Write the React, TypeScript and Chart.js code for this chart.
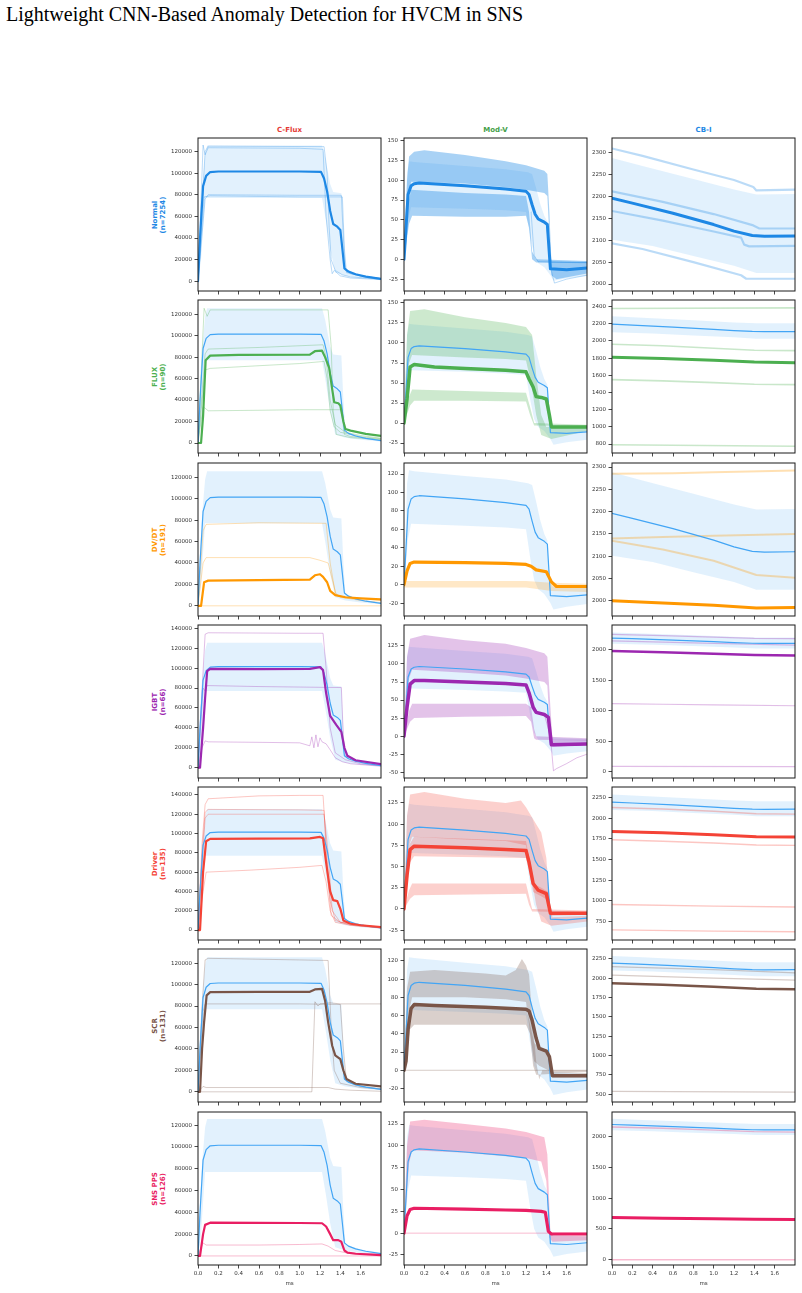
import React, { useEffect, useRef } from 'react';
import { Chart, registerables } from 'chart.js';
Chart.register(...registerables);

// ---------------- labels ----------------
const TITLE = 'Lightweight CNN-Based Anomaly Detection for HVCM in SNS';
const COLUMN_TITLES = ['C-Flux', 'Mod-V', 'CB-I'];
const COLUMN_COLORS = ['#E53935', '#43A047', '#1E88E5'];
const CLASS_NAMES = ['Normal', 'FLUX', 'DV/DT', 'IGBT', 'Driver', 'SCR', 'SNS PPS'];
const CLASS_COUNTS = [7254, 90, 191, 66, 135, 131, 126];
const CLASS_RGB = ['30,136,229', '76,175,80', '255,152,0', '156,39,176', '244,67,54', '121,85,72', '233,30,99'];
const X_TICKS = [0, 0.2, 0.4, 0.6, 0.8, 1.0, 1.2, 1.4, 1.6];
const X_MAX = 1.8;

// y ticks
const CF_TICKS_120 = [0, 20000, 40000, 60000, 80000, 100000, 120000];
const CF_TICKS_140 = [0, 20000, 40000, 60000, 80000, 100000, 120000, 140000];
const MV_TICKS_A = [-25, 0, 25, 50, 75, 100, 125, 150];
const MV_TICKS_B = [-20, 0, 20, 40, 60, 80, 100, 120];
const MV_TICKS_C = [-50, -25, 0, 25, 50, 75, 100, 125];
const MV_TICKS_D = [-25, 0, 25, 50, 75, 100, 125];
const CB_TICKS_A = [2000, 2050, 2100, 2150, 2200, 2250, 2300];
const CB_TICKS_B = [800, 1000, 1200, 1400, 1600, 1800, 2000, 2200, 2400];
const CB_TICKS_C = [0, 500, 1000, 1500, 2000];
const CB_TICKS_D = [750, 1000, 1250, 1500, 1750, 2000, 2250];
const CB_TICKS_E = [500, 750, 1000, 1250, 1500, 1750, 2000, 2250];

const CF_ROW_TICKS = [CF_TICKS_120, CF_TICKS_120, CF_TICKS_120, CF_TICKS_140, CF_TICKS_140, CF_TICKS_120, CF_TICKS_120];
const MV_ROW_TICKS = [MV_TICKS_A, MV_TICKS_A, MV_TICKS_B, MV_TICKS_C, MV_TICKS_D, MV_TICKS_B, MV_TICKS_D];
const CB_ROW_TICKS = [CB_TICKS_A, CB_TICKS_B, CB_TICKS_A, CB_TICKS_C, CB_TICKS_D, CB_TICKS_E, CB_TICKS_C];

const CF_LIMITS = [[-9000, 132500], [-9300, 133200], [-9500, 133300], [-10300, 143300], [-10300, 148200], [-9500, 133200], [-8300, 132000]];
const MV_LIMITS = [[-40, 153.4], [-37.4, 153.7], [-34, 132], [-58, 154], [-36.7, 143.8], [-34.8, 133], [-36.5, 138.8]];
const CB_LIMITS = [[1984, 2334], [696, 2477], [1966, 2309], [-100, 2410], [525, 2379], [398, 2378], [-86, 2399]];

// ---------------- Normal reference (mean and band) : [t, value, t, value, ...] ----------------
const REF_CF_MEAN = [0, 0, 0.02, 40000, 0.05, 88000, 0.08, 97500, 0.12, 101000, 0.2, 101500, 1.0, 101500, 1.21, 101200, 1.24, 95000, 1.27, 83000, 1.3, 65000, 1.33, 53000, 1.37, 50500, 1.4, 47500, 1.42, 30000, 1.44, 12000, 1.48, 9000, 1.55, 6500, 1.65, 4300, 1.8, 2200];
const REF_CF_HI = [0, 0, 0.02, 50000, 0.04, 85000, 0.07, 118000, 0.09, 125500, 1.22, 125500, 1.25, 115000, 1.3, 90000, 1.33, 82500, 1.41, 81500, 1.43, 40000, 1.45, 11000, 1.5, 9000, 1.6, 6000, 1.7, 4500, 1.8, 3000];
const REF_CF_LO = [0, 0, 0.03, 20000, 0.05, 50000, 0.07, 77000, 1.22, 77000, 1.26, 55000, 1.3, 30000, 1.35, 8000, 1.45, 5000, 1.6, 3000, 1.8, 1500];

const REF_MV_MEAN = [0, 0, 0.02, 40, 0.04, 82, 0.07, 93, 0.1, 95.5, 0.15, 96.5, 0.6, 93, 1.0, 89, 1.2, 86, 1.23, 82, 1.26, 69, 1.29, 57, 1.32, 51, 1.38, 47, 1.41, 44, 1.44, -12, 1.6, -13, 1.8, -11];
const REF_MV_HI = [0, 0, 0.03, 110, 0.05, 124, 0.1, 123, 0.6, 118, 1.0, 114, 1.22, 110, 1.26, 108, 1.3, 90, 1.34, 70, 1.38, 55, 1.41, 48, 1.43, 5, 1.46, -2, 1.8, -4];
const REF_MV_LO = [0, -2, 0.04, 50, 0.07, 66, 0.6, 64, 1.0, 62, 1.2, 60, 1.24, 30, 1.28, 5, 1.32, -5, 1.38, -10, 1.44, -20, 1.47, -27, 1.6, -24, 1.8, -21];

const REF_CB_MEAN = [0, 2196, 0.2, 2185, 0.6, 2162, 1.0, 2136, 1.2, 2121, 1.38, 2111, 1.5, 2109, 1.8, 2110];
const REF_CB_HI = [0, 2288, 0.3, 2270, 0.8, 2240, 1.2, 2216, 1.42, 2205, 1.8, 2206];
const REF_CB_LO = [0, 2101, 0.4, 2087, 0.8, 2064, 1.2, 2042, 1.42, 2025, 1.8, 2025];

// ---------------- Normal samples ----------------
const NORMAL_CF_LINES = [
  [0, 0, 0.05, 126000, 0.07, 117000, 0.1, 123500, 1.0, 123000, 1.23, 122000, 1.26, 60000, 1.3, 20000, 1.32, 7000, 1.34, 10000, 1.4, 5000, 1.5, 3000, 1.8, 1500],
  [0, 0, 0.07, 120000, 0.1, 125000, 1.24, 124500, 1.27, 100000, 1.29, 50000, 1.31, 20000, 1.35, 10000, 1.42, 6000, 1.5, 4000, 1.8, 2000],
  [0, 0, 0.07, 76000, 0.1, 80000, 1.0, 79500, 1.41, 79500, 1.43, 40000, 1.45, 10000, 1.5, 7000, 1.6, 5000, 1.8, 2500],
  [0, 0, 0.06, 78000, 0.12, 79000, 1.0, 78000, 1.42, 78000, 1.44, 30000, 1.46, 8000, 1.6, 5000, 1.8, 2500],
];
const NORMAL_MV_CLUSTERS = [
  [[0, 0, 0.03, 100, 0.05, 130, 0.1, 136, 0.2, 138, 0.6, 132, 1.0, 124, 1.2, 119, 1.38, 112, 1.41, 108, 1.43, 60, 1.45, -3, 1.8, -3],
   [0, 0, 0.04, 80, 0.07, 98, 0.6, 96, 1.0, 91, 1.2, 88, 1.38, 84, 1.41, 80, 1.43, 30, 1.45, -20, 1.5, -25, 1.8, -18]],
  [[0, 0, 0.04, 70, 0.07, 88, 0.6, 84, 1.0, 82, 1.2, 80, 1.23, 60, 1.26, 10, 1.3, 0, 1.8, -2],
   [0, 0, 0.05, 45, 0.08, 55, 0.6, 54, 1.0, 54, 1.2, 55, 1.23, 40, 1.26, 0, 1.3, -4, 1.8, -5]],
];
const NORMAL_MV_LINES = [
  [1.4, 45, 1.45, -15, 1.48, -30, 1.6, -25, 1.8, -20],
  [1.25, 60, 1.28, 5, 1.32, -3, 1.8, -4],
];
const NORMAL_CB_LINES = [
  [0, 2310, 0.3, 2293, 0.8, 2262, 1.2, 2238, 1.39, 2222, 1.42, 2214, 1.8, 2216],
  [0, 2212, 0.5, 2188, 1.0, 2160, 1.39, 2134, 1.45, 2127, 1.8, 2127],
  [0, 2167, 0.5, 2145, 1.0, 2120, 1.27, 2106, 1.3, 2090, 1.35, 2086, 1.8, 2087],
  [0, 2093, 0.3, 2080, 0.8, 2050, 1.27, 2020, 1.32, 2012, 1.8, 2012],
];

// ---------------- FLUX ----------------
const FLUX_CF_MEAN = [0, 0, 0.03, 0, 0.05, 25000, 0.075, 77000, 0.12, 81400, 0.4, 82000, 1.1, 82300, 1.15, 85500, 1.22, 86000, 1.25, 80000, 1.29, 70000, 1.32, 50000, 1.34, 38000, 1.38, 37000, 1.4, 35000, 1.43, 20000, 1.45, 13000, 1.5, 11500, 1.65, 8500, 1.8, 6700];
const FLUX_CF_LINES = [
  [0, 0, 0.06, 125500, 0.09, 118000, 0.12, 124000, 1.28, 124000, 1.31, 90000, 1.33, 30000, 1.36, 8000, 1.5, 5000, 1.8, 3000],
  [0, 0, 0.07, 83000, 0.1, 87500, 0.6, 89000, 1.23, 91500, 1.26, 80000, 1.3, 40000, 1.35, 17000, 1.45, 10000, 1.6, 7000, 1.8, 4500],
  [0, 0, 0.07, 68000, 0.12, 69500, 0.6, 72000, 1.0, 74000, 1.24, 76000, 1.27, 60000, 1.3, 30000, 1.34, 15000, 1.4, 10000, 1.6, 6000, 1.8, 4000],
  [0, 0, 0.05, 34000, 0.1, 30000, 0.6, 30500, 1.0, 31000, 1.41, 31000, 1.44, 8000, 1.5, 6000, 1.8, 3500],
];
const FLUX_MV_MEAN = [0, 0, 0.03, 30, 0.06, 70, 0.1, 73, 0.3, 70, 0.6, 68, 1.0, 66, 1.2, 64, 1.23, 55, 1.27, 45, 1.3, 33, 1.35, 32, 1.4, 30, 1.43, 10, 1.45, -5, 1.8, -5];
const FLUX_MV_CLUSTERS = [
  [[0, 0, 0.03, 110, 0.06, 140, 0.2, 142, 0.6, 132, 1.0, 125, 1.2, 120, 1.26, 110, 1.3, 60, 1.35, 10, 1.4, -5, 1.8, -3],
   [0, 0, 0.05, 75, 0.08, 85, 0.6, 82, 1.0, 80, 1.2, 78, 1.25, 50, 1.3, 10, 1.35, -15, 1.45, -20, 1.8, -10]],
  [[0, 0, 0.04, 30, 0.08, 42, 0.6, 40, 1.2, 38, 1.24, 20, 1.28, 0, 1.8, -2],
   [0, 0, 0.06, 22, 0.1, 28, 0.6, 28, 1.2, 27, 1.24, 10, 1.28, -3, 1.8, -4]],
];
const FLUX_CB_MEAN = [0, 1812, 0.5, 1795, 1.0, 1775, 1.4, 1755, 1.8, 1748];
const FLUX_CB_LINES = [
  [0, 2378, 1.8, 2385],
  [0, 1962, 0.5, 1945, 1.0, 1915, 1.4, 1892, 1.8, 1888],
  [0, 1550, 0.5, 1535, 1.0, 1515, 1.4, 1497, 1.8, 1492],
  [0, 792, 1.8, 775],
];

// ---------------- DV/DT ----------------
const DVDT_CF_MEAN = [0, 0, 0.03, 0, 0.06, 22000, 0.1, 23500, 0.6, 24000, 1.1, 24500, 1.15, 28500, 1.2, 29500, 1.23, 27000, 1.27, 22000, 1.3, 14000, 1.35, 10000, 1.45, 8000, 1.6, 7000, 1.8, 6000];
const DVDT_CF_LINES = [
  [0, 0, 0.05, 70000, 0.08, 76000, 0.6, 77500, 1.26, 77000, 1.3, 40000, 1.35, 12000, 1.4, 8000, 1.6, 5000, 1.8, 3000],
  [0, 0, 0.05, 40000, 0.08, 45000, 1.1, 45000, 1.2, 42500, 1.28, 40000, 1.32, 25000, 1.36, 10000, 1.45, 8000, 1.8, 5000],
  [0, 0, 1.8, 0],
];
const DVDT_MV_MEAN = [0, 0, 0.03, 15, 0.06, 23, 0.1, 24.5, 0.6, 24, 1.0, 23, 1.2, 22, 1.25, 20, 1.3, 16, 1.4, 14, 1.45, 3, 1.5, -2, 1.8, -2];
const DVDT_MV_CLUSTERS = [
  [[0, 4, 1.2, 4, 1.45, 2, 1.8, 1], [0, -3, 1.2, -3, 1.45, -7, 1.8, -8]],
];
const DVDT_CB_MEAN = [0, 2000, 0.5, 1995, 1.0, 1990, 1.42, 1984, 1.8, 1985];
const DVDT_CB_LINES = [
  [0, 2285, 0.6, 2286, 1.0, 2288, 1.8, 2292],
  [0, 2140, 0.5, 2143, 1.0, 2146, 1.8, 2150],
  [0, 2135, 0.5, 2115, 1.0, 2090, 1.42, 2058, 1.8, 2052],
];

// ---------------- IGBT ----------------
const IGBT_CF_MEAN = [0, 0, 0.02, 0, 0.05, 40000, 0.07, 70000, 0.09, 97000, 0.12, 99300, 0.6, 99000, 1.1, 99300, 1.2, 101000, 1.23, 98000, 1.26, 75000, 1.3, 52000, 1.36, 43000, 1.41, 36000, 1.44, 20000, 1.47, 12000, 1.55, 7500, 1.8, 3700];
const IGBT_CF_LINES = [
  [0, 0, 0.03, 60000, 0.07, 134000, 0.1, 135500, 1.0, 135000, 1.23, 135000, 1.26, 100000, 1.3, 40000, 1.35, 15000, 1.45, 8000, 1.6, 4000, 1.8, 2000],
  [0, 0, 0.05, 80000, 0.07, 77000, 0.09, 82500, 0.6, 81500, 1.0, 81000, 1.41, 80500, 1.43, 30000, 1.45, 12000, 1.55, 7000, 1.8, 3000],
  [0, 0, 0.04, 20000, 0.07, 27000, 0.1, 26000, 0.6, 25500, 1.0, 25000, 1.1, 22000, 1.12, 31000, 1.14, 20000, 1.16, 33000, 1.18, 21000, 1.2, 30000, 1.22, 26000, 1.26, 24000, 1.3, 18000, 1.35, 10000, 1.42, 6000, 1.5, 4000, 1.8, 1500],
];
const IGBT_MV_MEAN = [0, 0, 0.03, 40, 0.06, 72, 0.1, 77, 0.2, 77, 0.6, 75, 1.0, 73, 1.2, 71, 1.23, 60, 1.27, 40, 1.3, 33, 1.38, 30, 1.42, 26, 1.45, -12, 1.8, -11];
const IGBT_MV_CLUSTERS = [
  [[0, 0, 0.03, 110, 0.06, 135, 0.2, 140, 0.6, 133, 1.0, 128, 1.2, 122, 1.38, 115, 1.41, 110, 1.44, 40, 1.46, -5, 1.8, -5],
   [0, 0, 0.05, 80, 0.08, 92, 0.6, 88, 1.0, 84, 1.2, 80, 1.38, 75, 1.41, 70, 1.43, 20, 1.46, -15, 1.8, -12]],
  [[0, 0, 0.05, 35, 0.08, 45, 0.6, 45, 1.2, 45, 1.25, 40, 1.28, 10, 1.3, 0, 1.8, -3],
   [0, 0, 0.06, 20, 0.1, 25, 0.6, 27, 1.2, 28, 1.25, 20, 1.28, -3, 1.3, -5, 1.8, -6]],
];
const IGBT_MV_LINES = [
  [1.38, 30, 1.44, 0, 1.47, -48, 1.5, -45, 1.6, -38, 1.7, -30, 1.8, -25],
];
const IGBT_CB_MEAN = [0, 1985, 0.5, 1962, 1.0, 1940, 1.4, 1918, 1.8, 1910];
const IGBT_CB_LINES = [
  [0, 2255, 0.5, 2235, 1.0, 2210, 1.4, 2190, 1.8, 2185],
  [0, 2150, 1.0, 2110, 1.8, 2080],
  [0, 1120, 0.5, 1110, 1.0, 1100, 1.8, 1085],
  [0, 90, 1.8, 85],
];

// ---------------- Driver ----------------
const DRIVER_CF_MEAN = [0, 0, 0.02, 0, 0.05, 60000, 0.08, 92000, 0.12, 94500, 0.6, 94800, 1.1, 95000, 1.2, 96500, 1.23, 95000, 1.26, 70000, 1.3, 40000, 1.33, 31000, 1.37, 30000, 1.4, 22000, 1.43, 10000, 1.5, 6500, 1.6, 5000, 1.8, 3000];
const DRIVER_CF_LINES = [
  [0, 0, 0.04, 90000, 0.07, 130000, 0.1, 136000, 0.6, 139000, 1.0, 139500, 1.23, 139500, 1.26, 90000, 1.3, 30000, 1.35, 10000, 1.5, 5000, 1.8, 2500],
  [0, 0, 0.04, 80000, 0.07, 122000, 0.1, 125000, 1.0, 124500, 1.24, 124000, 1.27, 60000, 1.31, 15000, 1.4, 8000, 1.8, 2500],
  [0, 0, 0.07, 116000, 0.1, 120000, 1.0, 120000, 1.24, 120000, 1.28, 80000, 1.32, 20000, 1.4, 8000, 1.8, 3000],
  [0, 0, 0.05, 40000, 0.08, 60000, 0.5, 62000, 1.0, 65000, 1.22, 67000, 1.26, 50000, 1.3, 20000, 1.35, 8000, 1.5, 5000, 1.8, 2000],
];
const DRIVER_MV_MEAN = [0, 0, 0.03, 40, 0.06, 70, 0.1, 74, 0.6, 72, 1.0, 70, 1.2, 69, 1.23, 55, 1.27, 30, 1.32, 22, 1.4, 18, 1.44, -5, 1.8, -5];
const DRIVER_MV_CLUSTERS = [
  [[0, 0, 0.03, 110, 0.06, 135, 0.2, 138, 0.6, 130, 1.0, 125, 1.15, 128, 1.2, 120, 1.3, 100, 1.35, 90, 1.4, 60, 1.43, 10, 1.46, -10, 1.8, -8],
   [0, 0, 0.05, 75, 0.08, 85, 0.6, 82, 1.0, 80, 1.2, 75, 1.25, 40, 1.3, 5, 1.35, -15, 1.45, -20, 1.8, -15]],
  [[0, 0, 0.05, 75, 0.1, 85, 1.2, 80, 1.23, 60, 1.27, 30, 1.35, 25, 1.42, 20, 1.44, -5, 1.8, -4],
   [0, 0, 0.06, 55, 0.1, 62, 1.2, 60, 1.23, 45, 1.27, 20, 1.35, 15, 1.42, 10, 1.44, -8, 1.8, -7]],
  [[0, 0, 0.05, 22, 0.08, 30, 1.2, 30, 1.23, 15, 1.26, 0, 1.8, -2],
   [0, 0, 0.06, 12, 0.1, 16, 1.2, 18, 1.23, 5, 1.26, -3, 1.8, -4]],
];
const DRIVER_CB_MEAN = [0, 1840, 0.5, 1825, 1.0, 1800, 1.42, 1775, 1.8, 1773];
const DRIVER_CB_LINES = [
  [0, 2130, 0.5, 2112, 1.0, 2085, 1.42, 2055, 1.8, 2050],
  [0, 1740, 0.5, 1722, 1.0, 1700, 1.42, 1676, 1.8, 1672],
  [0, 955, 1.0, 935, 1.8, 925],
  [0, 648, 1.0, 632, 1.8, 625],
];

// ---------------- SCR ----------------
const SCR_CF_MEAN = [0, 0, 0.02, 0, 0.04, 40000, 0.06, 65000, 0.085, 90000, 0.12, 93000, 0.6, 93200, 1.1, 93300, 1.15, 95500, 1.22, 96000, 1.25, 85000, 1.28, 65000, 1.32, 43000, 1.35, 34000, 1.4, 30500, 1.43, 20000, 1.46, 12000, 1.55, 7500, 1.8, 5000];
const SCR_CF_LINES = [
  [0, 0, 0.04, 80000, 0.07, 123000, 0.1, 124500, 1.0, 123000, 1.28, 122500, 1.31, 60000, 1.34, 20000, 1.4, 8000, 1.6, 4000, 1.8, 2500],
  [0, 0, 0.05, 75000, 0.07, 82000, 0.6, 82000, 1.0, 82000, 1.4, 81500, 1.43, 40000, 1.46, 10000, 1.6, 5000, 1.8, 3000],
  [0, 0, 1.12, 0, 1.15, 84000, 1.18, 80000, 1.2, 82000, 1.3, 83000, 1.4, 82000, 1.8, 82000],
  [0, 0, 0.05, 5000, 0.08, 4000, 1.0, 4000, 1.28, 4000, 1.35, 2500, 1.5, 1500, 1.8, 500],
];
const SCR_MV_MEAN = [0, 0, 0.02, 10, 0.04, 45, 0.07, 68, 0.1, 72, 0.3, 71, 0.8, 69, 1.2, 67, 1.23, 65, 1.26, 55, 1.3, 35, 1.33, 24, 1.4, 21, 1.43, 15, 1.46, -6, 1.8, -6];
const SCR_MV_CLUSTERS = [
  [[0, 0, 0.03, 90, 0.06, 108, 0.3, 110, 0.8, 106, 1.0, 104, 1.1, 110, 1.16, 122, 1.2, 115, 1.23, 105, 1.26, 60, 1.3, 10, 1.33, -10, 1.36, 0, 1.8, 0],
   [0, 0, 0.05, 65, 0.08, 80, 0.6, 80, 1.0, 78, 1.2, 75, 1.23, 50, 1.27, 5, 1.3, -5, 1.8, -2]],
  [[0, 0, 0.05, 60, 0.08, 72, 1.2, 68, 1.23, 55, 1.28, 30, 1.33, 25, 1.42, 22, 1.46, -4, 1.8, -3],
   [0, 0, 0.06, 45, 0.1, 50, 0.6, 50, 1.2, 50, 1.24, 40, 1.28, 10, 1.33, 5, 1.42, 0, 1.46, -8, 1.8, -8]],
];
const SCR_MV_LINES = [[0, 0, 1.8, 0]];
const SCR_CB_MEAN = [0, 1935, 0.5, 1915, 1.0, 1890, 1.42, 1865, 1.8, 1858];
const SCR_CB_LINES = [
  [0, 2150, 1.0, 2110, 1.8, 2070],
  [0, 2040, 1.0, 2000, 1.8, 1975],
  [0, 535, 1.8, 525],
];

// ---------------- SNS PPS ----------------
const PPS_CF_MEAN = [0, 0, 0.02, 0, 0.05, 20000, 0.07, 28500, 0.12, 30500, 0.6, 30300, 1.0, 30200, 1.22, 30000, 1.26, 27000, 1.3, 20000, 1.33, 14500, 1.38, 14500, 1.41, 13000, 1.44, 5000, 1.47, 3000, 1.55, 2000, 1.8, 800];
const PPS_CF_LINES = [
  [0, 0, 0.05, 12000, 0.08, 10000, 0.6, 10000, 1.0, 10500, 1.22, 11000, 1.28, 9000, 1.35, 5000, 1.45, 3000, 1.8, 1500],
  [0, 0, 1.8, 0],
];
const PPS_MV_MEAN = [0, 0, 0.03, 20, 0.06, 27, 0.1, 28.5, 0.6, 27.5, 1.0, 26.5, 1.2, 26, 1.35, 25, 1.39, 24, 1.42, 2, 1.45, -1, 1.8, -1];
const PPS_MV_CLUSTERS = [
  [[0, 0, 0.03, 100, 0.06, 128, 0.2, 130, 0.6, 125, 1.0, 120, 1.2, 116, 1.38, 110, 1.41, 90, 1.44, 0, 1.47, -3, 1.8, -3],
   [0, 0, 0.05, 80, 0.08, 95, 0.6, 92, 1.0, 88, 1.2, 86, 1.35, 82, 1.4, 60, 1.43, -5, 1.46, -10, 1.8, -8]],
];
const PPS_MV_LINES = [[0, 0, 1.8, 0]];
const PPS_CB_MEAN = [0, 685, 0.5, 675, 1.0, 665, 1.4, 656, 1.8, 654];
const PPS_CB_LINES = [
  [0, 2155, 0.5, 2135, 1.0, 2105, 1.4, 2080, 1.8, 2072],
  [0, 0, 1.8, 0],
];

// ---------------- layout constants ----------------
const COL_X = [198, 404, 612];
const ROW_Y = [138, 300, 463, 625, 787, 949, 1112];
const PLOT_W = 183;
const PLOT_H = 153;
const Y_AXIS_W = 48;
const PAD_T = 3;
const PAD_R = 4;

type Layer =
  | { kind: 'line'; pts: number[]; color: string; width: number }
  | { kind: 'band'; hi: number[]; lo: number[]; color: string };

function toXY(a: number[]) {
  const r: { x: number; y: number }[] = [];
  for (let i = 0; i + 1 < a.length; i += 2) r.push({ x: a[i], y: a[i + 1] });
  return r;
}

const REF_BAND_COLOR = 'rgba(33,150,243,0.13)';
const REF_LINE_COLOR = '#42A5F5';

const REFS = [
  { mean: REF_CF_MEAN, hi: REF_CF_HI, lo: REF_CF_LO },
  { mean: REF_MV_MEAN, hi: REF_MV_HI, lo: REF_MV_LO },
  { mean: REF_CB_MEAN, hi: REF_CB_HI, lo: REF_CB_LO },
];

type ColSpec = { mean: number[]; lines: number[][]; clusters: number[][][]; lineW: number; meanW: number; clusterA: number };
const CLASS_SPECS: ColSpec[][] = [
  [
    { mean: REF_CF_MEAN, lines: NORMAL_CF_LINES, clusters: [], lineW: 1, meanW: 2.2, clusterA: 0 },
    { mean: REF_MV_MEAN, lines: NORMAL_MV_LINES, clusters: NORMAL_MV_CLUSTERS, lineW: 1, meanW: 3, clusterA: 0.38 },
    { mean: REF_CB_MEAN, lines: NORMAL_CB_LINES, clusters: [], lineW: 2.2, meanW: 3, clusterA: 0 },
  ],
  [
    { mean: FLUX_CF_MEAN, lines: FLUX_CF_LINES, clusters: [], lineW: 1, meanW: 2.2, clusterA: 0 },
    { mean: FLUX_MV_MEAN, lines: [], clusters: FLUX_MV_CLUSTERS, lineW: 1, meanW: 3.5, clusterA: 0.28 },
    { mean: FLUX_CB_MEAN, lines: FLUX_CB_LINES, clusters: [], lineW: 1.6, meanW: 3, clusterA: 0 },
  ],
  [
    { mean: DVDT_CF_MEAN, lines: DVDT_CF_LINES, clusters: [], lineW: 1, meanW: 2.2, clusterA: 0 },
    { mean: DVDT_MV_MEAN, lines: [], clusters: DVDT_MV_CLUSTERS, lineW: 1, meanW: 3.2, clusterA: 0.22 },
    { mean: DVDT_CB_MEAN, lines: DVDT_CB_LINES, clusters: [], lineW: 2, meanW: 3, clusterA: 0 },
  ],
  [
    { mean: IGBT_CF_MEAN, lines: IGBT_CF_LINES, clusters: [], lineW: 1, meanW: 2.2, clusterA: 0 },
    { mean: IGBT_MV_MEAN, lines: IGBT_MV_LINES, clusters: IGBT_MV_CLUSTERS, lineW: 1, meanW: 3.5, clusterA: 0.28 },
    { mean: IGBT_CB_MEAN, lines: IGBT_CB_LINES, clusters: [], lineW: 1.2, meanW: 2.5, clusterA: 0 },
  ],
  [
    { mean: DRIVER_CF_MEAN, lines: DRIVER_CF_LINES, clusters: [], lineW: 1, meanW: 2.2, clusterA: 0 },
    { mean: DRIVER_MV_MEAN, lines: [], clusters: DRIVER_MV_CLUSTERS, lineW: 1, meanW: 3.5, clusterA: 0.25 },
    { mean: DRIVER_CB_MEAN, lines: DRIVER_CB_LINES, clusters: [], lineW: 1.4, meanW: 3, clusterA: 0 },
  ],
  [
    { mean: SCR_CF_MEAN, lines: SCR_CF_LINES, clusters: [], lineW: 1, meanW: 2.2, clusterA: 0 },
    { mean: SCR_MV_MEAN, lines: SCR_MV_LINES, clusters: SCR_MV_CLUSTERS, lineW: 1, meanW: 3.5, clusterA: 0.28 },
    { mean: SCR_CB_MEAN, lines: SCR_CB_LINES, clusters: [], lineW: 1.2, meanW: 2.5, clusterA: 0 },
  ],
  [
    { mean: PPS_CF_MEAN, lines: PPS_CF_LINES, clusters: [], lineW: 1, meanW: 2.2, clusterA: 0 },
    { mean: PPS_MV_MEAN, lines: PPS_MV_LINES, clusters: PPS_MV_CLUSTERS, lineW: 1, meanW: 3.2, clusterA: 0.28 },
    { mean: PPS_CB_MEAN, lines: PPS_CB_LINES, clusters: [], lineW: 1.4, meanW: 3, clusterA: 0 },
  ],
];

function buildLayers(row: number, col: number): Layer[] {
  const ref = REFS[col];
  const spec = CLASS_SPECS[row][col];
  const rgb = CLASS_RGB[row];
  const layers: Layer[] = [];
  layers.push({ kind: 'band', hi: ref.hi, lo: ref.lo, color: REF_BAND_COLOR });
  spec.clusters.forEach((c) => layers.push({ kind: 'band', hi: c[0], lo: c[1], color: `rgba(${rgb},${spec.clusterA})` }));
  spec.lines.forEach((l) => layers.push({ kind: 'line', pts: l, color: `rgba(${rgb},0.3)`, width: spec.lineW }));
  if (row > 0) layers.push({ kind: 'line', pts: ref.mean, color: REF_LINE_COLOR, width: 1.2 });
  layers.push({ kind: 'line', pts: spec.mean, color: `rgb(${rgb})`, width: spec.meanW });
  return layers;
}

const boxPlugin = {
  id: 'box',
  afterDraw(chart: any) {
    const { ctx, chartArea: a } = chart;
    ctx.save();
    ctx.strokeStyle = '#1a1a1a';
    ctx.lineWidth = 1;
    ctx.strokeRect(a.left, a.top, a.right - a.left, a.bottom - a.top);
    ctx.restore();
  },
};

const TICK_FONT = { family: 'DejaVu Sans', size: 5.5 };

function Panel(props: { row: number; col: number; yMin: number; yMax: number; yTicks: number[] }) {
  const { row, col, yMin, yMax, yTicks } = props;
  const ref = useRef<HTMLCanvasElement>(null);
  const showX = row === ROW_Y.length - 1;
  const xH = showX ? 22 : 6;
  const W = Y_AXIS_W + PLOT_W + PAD_R;
  const H = PAD_T + PLOT_H + xH;
  useEffect(() => {
    const layers = buildLayers(row, col);
    const datasets: any[] = [];
    layers.forEach((l) => {
      if (l.kind === 'band') {
        datasets.push({ data: toXY(l.hi), borderWidth: 0, borderColor: 'rgba(0,0,0,0)', backgroundColor: l.color, fill: '+1', pointRadius: 0, tension: 0 });
        datasets.push({ data: toXY(l.lo), borderWidth: 0, borderColor: 'rgba(0,0,0,0)', backgroundColor: 'rgba(0,0,0,0)', fill: false, pointRadius: 0, tension: 0 });
      } else {
        datasets.push({ data: toXY(l.pts), borderColor: l.color, borderWidth: l.width, fill: false, pointRadius: 0, tension: 0, borderJoinStyle: 'round', borderCapStyle: 'round' });
      }
    });
    datasets.forEach((d, i) => (d.order = datasets.length - i));
    const chart = new Chart(ref.current as HTMLCanvasElement, {
      type: 'line',
      data: { datasets },
      options: {
        responsive: false,
        animation: false,
        devicePixelRatio: 1,
        layout: { padding: { top: PAD_T, right: PAD_R, left: 0, bottom: 0 } },
        plugins: { legend: { display: false }, tooltip: { enabled: false } },
        elements: { point: { radius: 0 } },
        scales: {
          x: {
            type: 'linear',
            min: 0,
            max: X_MAX,
            afterBuildTicks: (s: any) => { s.ticks = X_TICKS.map((v) => ({ value: v })); },
            afterFit: (s: any) => { s.height = xH; s.paddingLeft = 0; s.paddingRight = 0; },
            ticks: {
              autoSkip: false,
              maxRotation: 0,
              font: TICK_FONT,
              color: '#333',
              padding: 2,
              callback: (v: any) => (showX ? Number(v).toFixed(1) : ''),
            },
            grid: { drawOnChartArea: false, drawTicks: true, tickLength: 3.5, color: '#1a1a1a', lineWidth: 0.8 },
            border: { display: false },
            title: { display: showX, text: 'ms', font: TICK_FONT, color: '#333', padding: { top: 0, bottom: 0 } },
          },
          y: {
            type: 'linear',
            min: yMin,
            max: yMax,
            afterBuildTicks: (s: any) => { s.ticks = yTicks.map((v) => ({ value: v })); },
            afterFit: (s: any) => { s.width = Y_AXIS_W; s.paddingTop = 0; s.paddingBottom = 0; },
            ticks: { autoSkip: false, font: TICK_FONT, color: '#333', padding: 2.5, callback: (v: any) => String(v) },
            grid: { drawOnChartArea: false, drawTicks: true, tickLength: 3.5, color: '#1a1a1a', lineWidth: 0.8 },
            border: { display: false },
          },
        },
      } as any,
      plugins: [boxPlugin],
    });
    return () => chart.destroy();
  }, []);
  return (
    <canvas
      ref={ref}
      width={W}
      height={H}
      style={{ position: 'absolute', left: COL_X[col] - Y_AXIS_W, top: ROW_Y[row] - PAD_T, width: W, height: H }}
    />
  );
}

export default function App() {
  const panels: React.ReactNode[] = [];
  for (let r = 0; r < ROW_Y.length; r++) {
    panels.push(<Panel key={`cf${r}`} row={r} col={0} yMin={CF_LIMITS[r][0]} yMax={CF_LIMITS[r][1]} yTicks={CF_ROW_TICKS[r]} />);
    panels.push(<Panel key={`mv${r}`} row={r} col={1} yMin={MV_LIMITS[r][0]} yMax={MV_LIMITS[r][1]} yTicks={MV_ROW_TICKS[r]} />);
    panels.push(<Panel key={`cb${r}`} row={r} col={2} yMin={CB_LIMITS[r][0]} yMax={CB_LIMITS[r][1]} yTicks={CB_ROW_TICKS[r]} />);
  }
  return (
    <div style={{ position: 'absolute', left: 0, top: 0, width: 802, height: 1293, background: '#fff', overflow: 'hidden' }}>
      <div style={{ position: 'absolute', left: 6, top: 3, fontFamily: '"Liberation Serif", serif', fontSize: 20, whiteSpace: 'nowrap', color: '#000' }}>
        {TITLE}
      </div>
      {COLUMN_TITLES.map((t, c) => (
        <div key={t} style={{ position: 'absolute', left: COL_X[c], top: 126, width: PLOT_W, textAlign: 'center', fontFamily: '"DejaVu Sans", sans-serif', fontWeight: 'bold', fontSize: 7, lineHeight: '8px', color: COLUMN_COLORS[c] }}>
          {t}
        </div>
      ))}
      {CLASS_NAMES.map((n, r) => (
        <div
          key={n}
          style={{
            position: 'absolute',
            left: 159 - PLOT_H / 2,
            top: ROW_Y[r] + PLOT_H / 2 - 8,
            width: PLOT_H,
            height: 16,
            transform: 'rotate(-90deg)',
            transformOrigin: '50% 50%',
            textAlign: 'center',
            fontFamily: '"DejaVu Sans", sans-serif',
            fontWeight: 'bold',
            fontSize: 7,
            lineHeight: '7.5px',
            color: `rgb(${CLASS_RGB[r]})`,
            whiteSpace: 'pre',
          }}
        >
          {`${n}\n(n=${CLASS_COUNTS[r]})`}
        </div>
      ))}
      {panels}
    </div>
  );
}
